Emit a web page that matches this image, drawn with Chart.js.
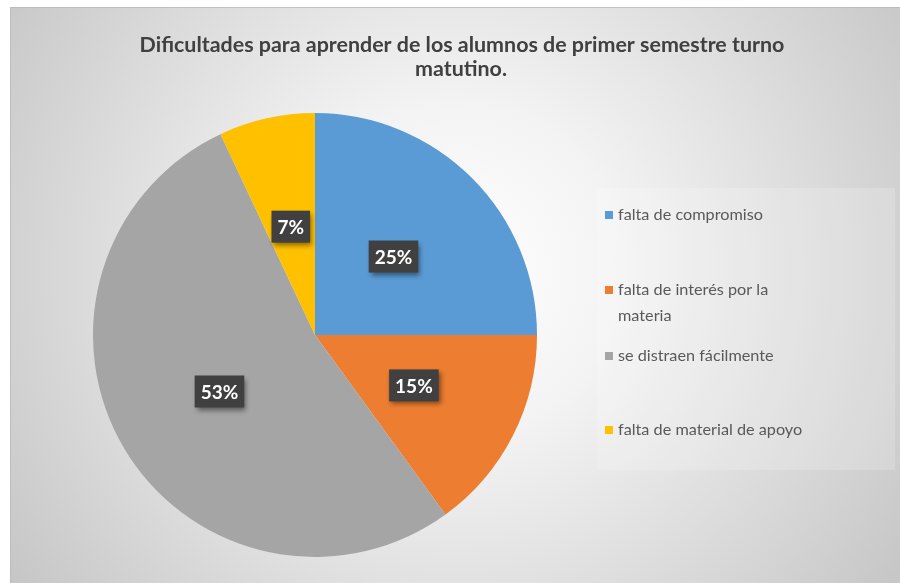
<!DOCTYPE html>
<html>
<head>
<meta charset="utf-8">
<script src="https://cdn.jsdelivr.net/npm/chart.js@4"></script>
<style>
  html, body { margin: 0; padding: 0; background: #ffffff; }
  #wrap { width: 900px; height: 583px; position: relative; }
</style>
</head>
<body>
<div id="wrap"><canvas id="c" width="900" height="583"></canvas></div>
<script>
const titleLines = ["Dificultades para aprender de los alumnos de primer semestre turno", "matutino."];
const categories = ["falta de compromiso", "falta de interés por la materia", "se distraen fácilmente", "falta de material de apoyo"];
const legendLines = [["falta de compromiso"], ["falta de interés por la", "materia"], ["se distraen fácilmente"], ["falta de material de apoyo"]];
const values = [25, 15, 53, 7];
const valueLabels = ["25%", "15%", "53%", "7%"];
const colors = ["#5B9BD5", "#ED7D31", "#A5A5A5", "#FFC000"];

const FONT = "Lato, 'Liberation Sans', sans-serif";

const bgPlugin = {
  id: 'bg',
  beforeDraw(chart) {
    const ctx = chart.ctx;
    ctx.save();
    ctx.fillStyle = '#ffffff';
    ctx.fillRect(0, 0, chart.width, chart.height);
    const g = ctx.createRadialGradient(455, 270, 0, 455, 270, 560);
    g.addColorStop(0, '#ffffff');
    g.addColorStop(0.3, '#f3f3f3');
    g.addColorStop(1, '#c4c4c4');
    ctx.fillStyle = g;
    ctx.fillRect(10, 7, chart.width - 10, chart.height - 7);
    ctx.strokeStyle = 'rgba(185,185,185,0.8)';
    ctx.lineWidth = 1;
    ctx.beginPath();
    ctx.moveTo(10, 7.5); ctx.lineTo(chart.width, 7.5);
    ctx.moveTo(10.5, 7); ctx.lineTo(10.5, chart.height);
    ctx.stroke();
    // subtle lighter legend backdrop
    ctx.fillStyle = 'rgba(255,255,255,0.18)';
    ctx.fillRect(597, 188, 298, 282);
    ctx.restore();
  }
};

const decorPlugin = {
  id: 'decor',
  afterDraw(chart) {
    const ctx = chart.ctx;
    ctx.save();
    // title
    ctx.fillStyle = '#404040';
    ctx.textAlign = 'center';
    ctx.textBaseline = 'middle';
    let ts = 17;
    ctx.font = 'bold ' + ts + 'px ' + FONT;
    const w0 = ctx.measureText(titleLines[0]).width;
    ts = ts * 645 / w0;
    ctx.font = 'bold ' + ts.toFixed(2) + 'px ' + FONT;
    ctx.fillText(titleLines[0], 462, 45);
    ctx.fillText(titleLines[1], 461, 69);

    // data labels
    const meta = chart.getDatasetMeta(0);
    ctx.font = 'bold 19px ' + FONT;
    meta.data.forEach((arc, i) => {
      const p = arc.tooltipPosition();
      const txt = valueLabels[i];
      const tw = ctx.measureText(txt).width;
      const bw = tw + 12, bh = 32;
      ctx.save();
      ctx.shadowColor = 'rgba(0,0,0,0.45)';
      ctx.shadowBlur = 5;
      ctx.shadowOffsetX = 2;
      ctx.shadowOffsetY = 3;
      ctx.fillStyle = '#404040';
      ctx.fillRect(p.x - bw / 2, p.y - bh / 2, bw, bh);
      ctx.restore();
      ctx.fillStyle = '#ffffff';
      ctx.textAlign = 'center';
      ctx.textBaseline = 'middle';
      ctx.fillText(txt, p.x, p.y + 1);
    });

    // legend
    let ls = 16;
    ctx.font = ls + 'px ' + FONT;
    const lw = ctx.measureText(legendLines[0][0]).width;
    ls = ls * 145 / lw;
    ctx.font = ls.toFixed(2) + 'px ' + FONT;
    ctx.textAlign = 'left';
    ctx.textBaseline = 'middle';
    const ys = [215, 290, 356, 430];
    legendLines.forEach((lines, i) => {
      ctx.fillStyle = colors[i];
      ctx.fillRect(605, ys[i] - 4, 8, 8);
      ctx.fillStyle = '#595959';
      lines.forEach((ln, j) => ctx.fillText(ln, 618, ys[i] + j * 26));
    });
    ctx.restore();
  }
};

new Chart(document.getElementById('c'), {
  type: 'pie',
  data: {
    labels: categories,
    datasets: [{
      data: values,
      backgroundColor: colors,
      borderWidth: 0
    }]
  },
  options: {
    responsive: false,
    animation: false,
    layout: { padding: { top: 113, bottom: 26, left: 93, right: 363 } },
    plugins: {
      legend: { display: false },
      title: { display: false },
      tooltip: { enabled: false }
    }
  },
  plugins: [bgPlugin, decorPlugin]
});
</script>
</body>
</html>
